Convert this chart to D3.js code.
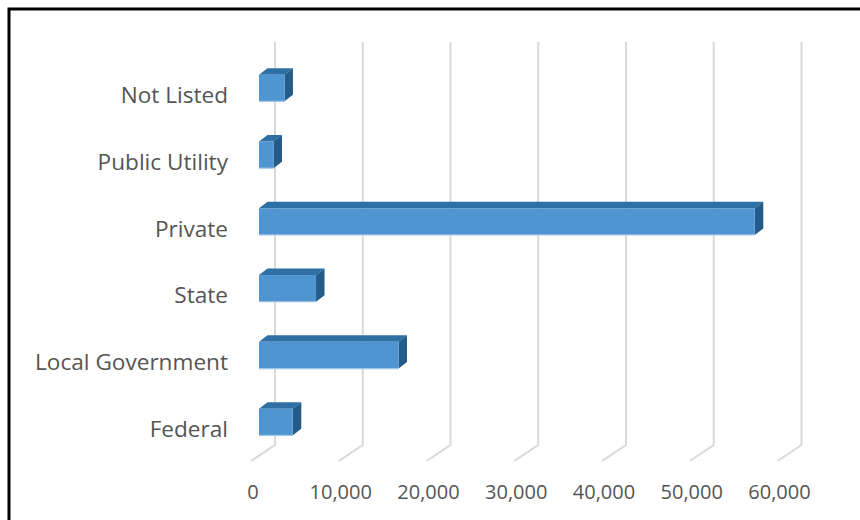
<!DOCTYPE html>
<html>
<head>
<meta charset="utf-8">
<script src="https://cdn.jsdelivr.net/npm/d3@7"></script>
<style>
  html, body { margin: 0; padding: 0; background: #ffffff; }
  svg { display: block; }
</style>
</head>
<body>
<svg id="chart" width="860" height="520"></svg>
<script>
// ---- data ----
const categories = ["Not Listed", "Public Utility", "Private", "State", "Local Government", "Federal"];
const values = [2900, 1650, 56500, 6500, 15900, 3850];
const tickValues = [0, 10000, 20000, 30000, 40000, 50000, 60000];
const tickLabels = ["0", "10,000", "20,000", "30,000", "40,000", "50,000", "60,000"];

// ---- layout ----
const svg = d3.select("#chart");
const W = 860, H = 520;
const FONT = "'Open Sans', 'Noto Sans', sans-serif";
const TEXT = "#555555";

// depth offsets (oblique 3D)
const wallDx = 16;                    // back wall relative to bar front plane
const floorDx = -7.5;                 // front floor edge relative to bar front plane
const barDx = 8.5, barDy = -6.5;      // bar depth

const x = d3.scaleLinear().domain([0, 60000]).range([259, 785.5]);
const y = d3.scaleBand().domain(categories).range([54.6, 455.4]).paddingInner(0.6).paddingOuter(0.3);

const wallTop = 42, wallBottom = 445, floorFront = 461;

// frame
svg.append("path")
  .attr("d", `M9,${H} L9,9 L${W},9`)
  .attr("fill", "none")
  .attr("stroke", "#000")
  .attr("stroke-width", 3);

// gridlines (back wall + floor)
const grid = svg.append("g").attr("fill", "none").attr("stroke", "#d9d9d9").attr("stroke-width", 2);
tickValues.forEach(v => {
  const bx = x(v) + wallDx;
  const fx = x(v) + floorDx - 0.5;
  grid.append("path")
    .attr("d", `M${bx},${wallTop} L${bx},${wallBottom} L${fx},${floorFront}`);
});

// tick labels
svg.append("g").selectAll("text")
  .data(tickValues)
  .join("text")
  .attr("x", v => x(v) + floorDx + 1.5)
  .attr("y", 499)
  .attr("text-anchor", "middle")
  .attr("font-family", FONT)
  .attr("font-size", 20)
  .attr("fill", TEXT)
  .text((v, i) => tickLabels[i]);

// category labels
svg.append("g").selectAll("text")
  .data(categories)
  .join("text")
  .attr("x", 228)
  .attr("y", c => y(c) + y.bandwidth() / 2 + 15)
  .attr("text-anchor", "end")
  .attr("font-family", FONT)
  .attr("font-size", 22.6)
  .attr("fill", TEXT)
  .text(c => c);

// bars
const bars = svg.append("g");
categories.forEach((c, i) => {
  const x0 = x(0), x1 = x(values[i]);
  const y0 = y(c), y1 = y(c) + y.bandwidth();
  const g = bars.append("g");
  // top face
  g.append("path")
    .attr("d", `M${x0},${y0} L${x1},${y0} L${x1 + barDx},${y0 + barDy} L${x0 + barDx},${y0 + barDy} Z`)
    .attr("fill", "#2e6fa4");
  // side face
  g.append("path")
    .attr("d", `M${x1},${y0} L${x1 + barDx},${y0 + barDy} L${x1 + barDx},${y1 + barDy} L${x1},${y1} Z`)
    .attr("fill", "#245b88");
  // front face
  g.append("rect")
    .attr("x", x0).attr("y", y0)
    .attr("width", x1 - x0).attr("height", y1 - y0)
    .attr("fill", "#4f95d1");
  // light edge on bottom
  g.append("path")
    .attr("d", `M${x0},${y1} L${x1},${y1}`)
    .attr("stroke", "#9fc4e8")
    .attr("stroke-width", 1.2);
});
</script>
</body>
</html>
